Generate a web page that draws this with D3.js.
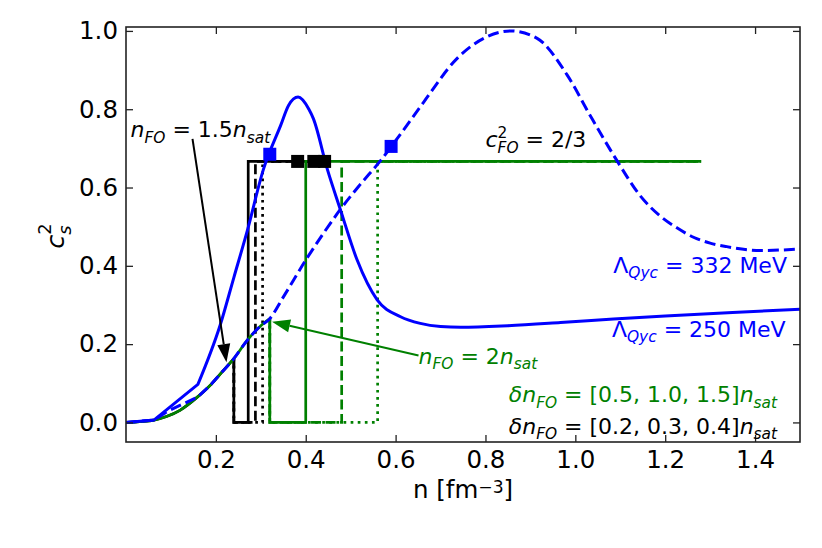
<!DOCTYPE html>
<html>
<head>
<meta charset="utf-8">
<script src="https://cdn.jsdelivr.net/npm/d3@7"></script>
<style>
  body { margin: 0; background: #fff; }
  svg text { font-family: "DejaVu Sans", sans-serif; }
</style>
</head>
<body>
<svg id="chart" width="822" height="548"></svg>
<script>
// sound speed squared vs density
const nSat = 0.16;
const cFO = 2 / 3;

// low density branch shared by the freeze-out curves
const baseN = [0, 0.03, 0.062, 0.09, 0.12, 0.158, 0.19, 0.21, 0.24, 0.27, 0.30, 0.32];
const baseC = [0, 0.002, 0.006, 0.015, 0.031, 0.064, 0.098, 0.124, 0.163, 0.21, 0.247, 0.265];

// Lambda_Qyc = 250 MeV (solid blue)
const eos250N = [0, 0.062, 0.16, 0.21, 0.24, 0.27, 0.306, 0.344, 0.362, 0.383, 0.407, 0.417, 0.448, 0.477, 0.514, 0.559, 0.611, 0.655, 0.70, 0.745, 0.85, 0.967, 1.085, 1.2, 1.35, 1.5];
const eos250C = [0, 0.006, 0.097, 0.25, 0.37, 0.49, 0.647, 0.758, 0.81, 0.831, 0.80, 0.776, 0.647, 0.544, 0.416, 0.313, 0.27, 0.253, 0.245, 0.243, 0.247, 0.255, 0.264, 0.272, 0.281, 0.289];

// Lambda_Qyc = 332 MeV (dashed blue)
const eos332N = [0, 0.062, 0.092, 0.132, 0.158, 0.19, 0.21, 0.24, 0.27, 0.30, 0.32, 0.35, 0.403, 0.44, 0.477, 0.52, 0.566, 0.603, 0.663, 0.737, 0.796, 0.855, 0.915, 0.982, 1.033, 1.093, 1.145, 1.189, 1.226, 1.263, 1.30, 1.337, 1.412, 1.5];
const eos332C = [0, 0.006, 0.028, 0.05, 0.064, 0.098, 0.124, 0.163, 0.21, 0.247, 0.265, 0.32, 0.42, 0.484, 0.544, 0.606, 0.668, 0.724, 0.819, 0.93, 0.981, 1.0, 0.981, 0.887, 0.784, 0.668, 0.578, 0.527, 0.497, 0.473, 0.458, 0.449, 0.439, 0.443];

// where the low density part is a straight broken line
const kinkN = 0.16;

// freeze-out step parameters
const blackFO = 1.5;                 // n_FO in units of n_sat
const blackDelta = [0.2, 0.3, 0.4];
const blackEnd = [0.382, 0.418, 0.442];
const greenFO = 2;
const greenDelta = [0.5, 1.0, 1.5];
const greenEnd = 1.28;
const styles = ['solid', 'dashed', 'dotted'];

const blueMarkN = [0.32, 0.59];
const blueMarkC = [0.685, 0.705];

const xTicks = [0.2, 0.4, 0.6, 0.8, 1.0, 1.2, 1.4];
const yTicks = [0.0, 0.2, 0.4, 0.6, 0.8, 1.0];

const svg = d3.select('#chart');
const mLeft = 126, mRight = 800, mTop = 27, mBottom = 442;
const x = d3.scaleLinear().domain([0, 1.5]).range([mLeft, mRight]);
const y = d3.scaleLinear().domain([-0.05, 1.01]).range([mBottom, mTop]);

const BLUE = '#0000ff', GREEN = '#008000', BLACK = '#000000';
const dash = { solid: null, dashed: '10,4.5', dotted: '2.7,4.4' };

const plot = svg.append('g');
plot.append('clipPath').attr('id', 'clip').append('rect')
    .attr('x', mLeft).attr('y', mTop).attr('width', mRight - mLeft).attr('height', mBottom - mTop);
const area = plot.append('g').attr('clip-path', 'url(#clip)');

const smooth = d3.line().x(d => x(d[0])).y(d => y(d[1])).curve(d3.curveMonotoneX);
const straight = d3.line().x(d => x(d[0])).y(d => y(d[1]));

function drawFO(nFO, deltas, ends, color) {
  const k = baseN.findIndex(v => Math.abs(v - nFO * nSat) < 1e-9);
  const base = baseN.slice(0, k + 1).map((v, i) => [v, baseC[i]]);
  area.append('path').attr('d', smooth(base))
      .attr('fill', 'none').attr('stroke', color).attr('stroke-width', 2.7);
  deltas.forEach((d, i) => {
    const n0 = nFO * nSat, n1 = n0 + d * nSat;
    const end = Array.isArray(ends) ? ends[i] : ends;
    const pts = [[n0, baseC[k]], [n0, 0], [n1, 0], [n1, cFO], [end, cFO]];
    area.append('path').attr('d', straight(pts))
        .attr('fill', 'none').attr('stroke', color).attr('stroke-width', 2.7)
        .attr('stroke-dasharray', dash[styles[i]]);
  });
}

drawFO(blackFO, blackDelta, blackEnd, BLACK);
drawFO(greenFO, greenDelta, greenEnd, GREEN);

// straight pieces below the kink, smooth above it
function blueCurve(ns, cs, dashArr) {
  const pts = ns.map((v, i) => [v, cs[i]]);
  const lo = pts.filter(p => p[0] <= kinkN + 1e-9);
  const hi = pts.filter(p => p[0] >= lo[lo.length - 1][0] - 1e-9);
  const d = straight(lo) + smooth(hi).replace(/^M[^LC]*/, '');
  area.append('path').attr('d', d)
      .attr('fill', 'none').attr('stroke', BLUE).attr('stroke-width', 3)
      .attr('stroke-dasharray', dashArr);
}
blueCurve(eos332N, eos332C, '11,5');
blueCurve(eos250N, eos250C, null);

// markers
const sq = 13;
area.selectAll('rect.bm').data(blueMarkN).join('rect').attr('class', 'bm')
    .attr('x', d => x(d) - sq / 2).attr('y', (d, i) => y(blueMarkC[i]) - sq / 2)
    .attr('width', sq).attr('height', sq).attr('fill', BLUE);
area.selectAll('rect.km').data(blackEnd).join('rect').attr('class', 'km')
    .attr('x', d => x(d) - sq / 2).attr('y', y(cFO) - sq / 2)
    .attr('width', sq).attr('height', sq).attr('fill', BLACK);

// axes, ticks pointing in on all four sides
const axisColor = '#222';
const fs = 24.5;
svg.append('g').attr('transform', `translate(0,${mBottom})`)
    .call(d3.axisBottom(x).tickValues(xTicks).tickSize(-7).tickPadding(9).tickFormat(d3.format('.1f')));
svg.append('g').attr('transform', `translate(${mLeft},0)`)
    .call(d3.axisLeft(y).tickValues(yTicks).tickSize(-7).tickPadding(8).tickFormat(d3.format('.1f')));
svg.append('g').attr('transform', `translate(0,${mTop})`)
    .call(d3.axisTop(x).tickValues(xTicks).tickSize(-7).tickFormat(''));
svg.append('g').attr('transform', `translate(${mRight},0)`)
    .call(d3.axisRight(y).tickValues(yTicks).tickSize(-7).tickFormat(''));
svg.selectAll('.domain').remove();
svg.selectAll('.tick line').attr('stroke', axisColor).attr('stroke-width', 1.3);
svg.selectAll('.tick text').attr('font-size', fs).attr('fill', '#000')
    .attr('font-family', '"DejaVu Sans", sans-serif');
svg.append('rect').attr('x', mLeft).attr('y', mTop)
    .attr('width', mRight - mLeft).attr('height', mBottom - mTop)
    .attr('fill', 'none').attr('stroke', axisColor).attr('stroke-width', 1.6);

// little mathtext-ish label builder: one <text>, tspans placed by measuring
function mathLabel(parent, px, py, parts, opt) {
  const size = opt.size;
  const supUp = opt.supUp || 0.4, subDown = opt.subDown || 0.24;
  const t = parent.append('text').attr('fill', opt.color || '#000').style('white-space', 'pre');
  let cur = 0, prevStart = 0;
  parts.forEach(p => {
    const small = p.sub || p.sup;
    const start = p.stack ? prevStart : cur;
    const s = t.append('tspan')
        .attr('x', start)
        .attr('y', p.sub ? size * subDown : p.sup ? -size * supUp : 0)
        .attr('font-size', small ? size * 0.7 : size)
        .attr('font-style', p.it ? 'italic' : 'normal')
        .text(p.t);
    const w = s.node().getComputedTextLength();
    cur = Math.max(cur, start + w);
    prevStart = start;
  });
  const shift = opt.anchor === 'end' ? -cur : opt.anchor === 'middle' ? -cur / 2 : 0;
  t.attr('transform', `translate(${px + shift},${py})`);
  return t;
}

// axis labels
mathLabel(svg, (mLeft + mRight) / 2, 498, [
  { t: 'n [fm' }, { t: '\u22123', sup: true }, { t: ']' }
], { size: fs, anchor: 'middle', supUp: 0.2 });
const yl = svg.append('g').attr('transform', 'translate(64,236) rotate(-90)');
mathLabel(yl, 0, 0, [
  { t: 'c', it: true }, { t: '2', sup: true }, { t: 's', it: true, sub: true, stack: true }
], { size: 25.5, anchor: 'middle', supUp: 0.5, subDown: 0.28 });

// annotations
const ls = 22;
function arrow(from, to, color) {
  const x0 = x(from[0]), y0 = y(from[1]), x1 = x(to[0]), y1 = y(to[1]);
  const len = Math.hypot(x1 - x0, y1 - y0), ux = (x1 - x0) / len, uy = (y1 - y0) / len;
  const hl = 18, hw = 6.5;
  const bx = x1 - ux * hl, by = y1 - uy * hl;
  svg.append('line').attr('x1', x0).attr('y1', y0).attr('x2', bx).attr('y2', by)
      .attr('stroke', color).attr('stroke-width', 2);
  svg.append('path')
      .attr('d', `M${x1},${y1}L${bx - uy * hw},${by + ux * hw}L${bx + uy * hw},${by - ux * hw}Z`)
      .attr('fill', color);
}

arrow([0.148, 0.724], [0.2236, 0.154], BLACK);
arrow([0.651, 0.171], [0.325, 0.257], GREEN);

mathLabel(svg, x(0.01), y(0.728), [
  { t: 'n', it: true }, { t: 'FO', it: true, sub: true }, { t: ' = 1.5' },
  { t: 'n', it: true }, { t: 'sat', it: true, sub: true }
], { size: ls, color: BLACK });

mathLabel(svg, x(0.651), y(0.15), [
  { t: 'n', it: true }, { t: 'FO', it: true, sub: true }, { t: ' = 2' },
  { t: 'n', it: true }, { t: 'sat', it: true, sub: true }
], { size: ls, color: GREEN });

mathLabel(svg, x(0.8), y(0.703), [
  { t: 'c', it: true }, { t: '2', sup: true }, { t: 'FO', it: true, sub: true, stack: true },
  { t: ' = 2/3' }
], { size: ls, color: BLACK, subDown: 0.28 });

mathLabel(svg, x(1.471), y(0.382), [
  { t: '\u039b' }, { t: 'Qyc', it: true, sub: true }, { t: ' = 332 MeV' }
], { size: ls, color: BLUE, anchor: 'end' });

mathLabel(svg, x(1.468), y(0.2185), [
  { t: '\u039b' }, { t: 'Qyc', it: true, sub: true }, { t: ' = 250 MeV' }
], { size: ls, color: BLUE, anchor: 'end' });

mathLabel(svg, x(1.449), y(0.051), [
  { t: '\u03b4n', it: true }, { t: 'FO', it: true, sub: true },
  { t: ' = [' + greenDelta.map(d3.format('.1f')).join(', ') + ']' },
  { t: 'n', it: true }, { t: 'sat', it: true, sub: true }
], { size: ls, color: GREEN, anchor: 'end' });

mathLabel(svg, x(1.449), y(-0.03), [
  { t: '\u03b4n', it: true }, { t: 'FO', it: true, sub: true },
  { t: ' = [' + blackDelta.map(d3.format('.1f')).join(', ') + ']' },
  { t: 'n', it: true }, { t: 'sat', it: true, sub: true }
], { size: ls, color: BLACK, anchor: 'end' });
</script>
</body>
</html>
